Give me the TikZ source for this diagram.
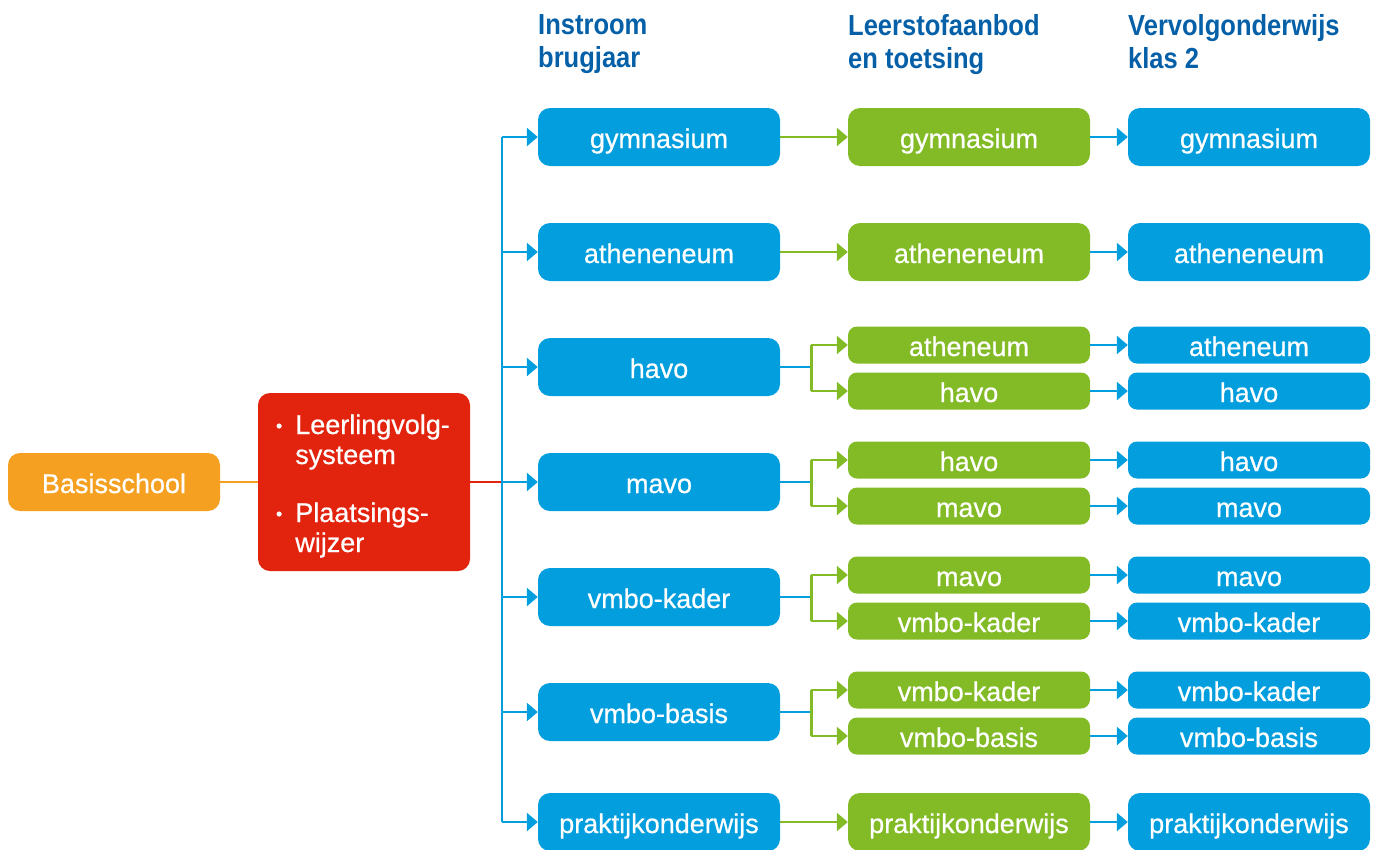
\documentclass[tikz,border=0pt]{standalone}
\usepackage{fontspec}
\setmainfont{Liberation Sans}
\newfontfamily\boxfnt[FakeBold=0.6]{Liberation Sans}
\newfontfamily\headfont[FakeStretch=0.88]{Liberation Sans}
\usetikzlibrary{arrows.meta}
\definecolor{cblue}{HTML}{039EDE}
\definecolor{cgreen}{HTML}{82BB25}
\definecolor{cred}{HTML}{E2230D}
\definecolor{corange}{HTML}{F5A020}
\definecolor{chead}{HTML}{0560A8}
\tikzset{
  boxfont/.style={font=\boxfnt\fontsize{27}{30}\selectfont},
  box/.style={rounded corners=12pt, minimum width=242pt, minimum height=58pt, inner sep=0pt, text height=22pt, text depth=0pt, text=white, boxfont},
  sbox/.style={box, minimum height=37pt, rounded corners=9pt},
  bbox/.style={box, fill=cblue},
  gbox/.style={box, fill=cgreen},
  sbbox/.style={sbox, fill=cblue},
  sgbox/.style={sbox, fill=cgreen},
  tip/.style={-{Triangle[length=11pt,width=18pt]}},
  bline/.style={draw=cblue, line width=2.6pt},
  gline/.style={draw=cgreen, line width=2.6pt},
  barr/.style={bline, tip},
  garr/.style={gline, tip},
  head/.style={anchor=north west, inner sep=0pt, align=left, text=chead, font=\headfont\bfseries\fontsize{29}{33}\selectfont},
}
\begin{document}
\begin{tikzpicture}[x=1pt,y=-1pt]
\useasboundingbox (0,0) rectangle (1381,849);
% headers
\node[head] (h1) at (538,14) {Instroom\\brugjaar};
\node[head] (h2) at (848,14) {Leerstofaanbod\\en toetsing};
\node[head] (h3) at (1128,14) {Vervolgonderwijs\\klas 2};
% left nodes
\node[box, fill=corange, minimum width=212pt] (bs) at (114,482) {Basisschool};
\node[rounded corners=12pt, fill=cred, text=white, minimum width=212pt, minimum height=178pt, text width=176pt, inner xsep=18pt, inner ysep=0pt, align=left, font=\boxfnt\fontsize{27}{30}\selectfont] (red) at (364,482)
 {\begin{tabular}{@{}l@{\hspace{13pt}}l@{}}\rule{0pt}{31pt}\raisebox{2pt}{\fontsize{18}{18}\selectfont•} & Leerlingvolg-\\ & systeem\\[28pt]\raisebox{2pt}{\fontsize{18}{18}\selectfont•} & Plaatsings-\\ & wijzer\end{tabular}};
% column 1
\node[bbox] (c1a) at (659,137) {gymnasium};
\node[bbox] (c1b) at (659,252) {atheneneum};
\node[bbox] (c1c) at (659,367) {havo};
\node[bbox] (c1d) at (659,482) {mavo};
\node[bbox] (c1e) at (659,597) {vmbo-kader};
\node[bbox] (c1f) at (659,712) {vmbo-basis};
\node[bbox] (c1g) at (659,822) {praktijkonderwijs};
% column 2
\node[gbox] (c2a) at (969,137) {gymnasium};
\node[gbox] (c2b) at (969,252) {atheneneum};
\node[sgbox] (c2c1) at (969,345) {atheneum};
\node[sgbox] (c2c2) at (969,391) {havo};
\node[sgbox] (c2d1) at (969,460) {havo};
\node[sgbox] (c2d2) at (969,506) {mavo};
\node[sgbox] (c2e1) at (969,575) {mavo};
\node[sgbox] (c2e2) at (969,621) {vmbo-kader};
\node[sgbox] (c2f1) at (969,690) {vmbo-kader};
\node[sgbox] (c2f2) at (969,736) {vmbo-basis};
\node[gbox] (c2g) at (969,822) {praktijkonderwijs};
% column 3
\node[bbox] (c3a) at (1249,137) {gymnasium};
\node[bbox] (c3b) at (1249,252) {atheneneum};
\node[sbbox] (c3c1) at (1249,345) {atheneum};
\node[sbbox] (c3c2) at (1249,391) {havo};
\node[sbbox] (c3d1) at (1249,460) {havo};
\node[sbbox] (c3d2) at (1249,506) {mavo};
\node[sbbox] (c3e1) at (1249,575) {mavo};
\node[sbbox] (c3e2) at (1249,621) {vmbo-kader};
\node[sbbox] (c3f1) at (1249,690) {vmbo-kader};
\node[sbbox] (c3f2) at (1249,736) {vmbo-basis};
\node[bbox] (c3g) at (1249,822) {praktijkonderwijs};
% connectors left
\draw[draw=corange, line width=2.6pt] (bs.east) -- (red.west);
\coordinate (trunk) at (502,482);
\draw[draw=cred, line width=2.6pt] (red.east) -- (trunk);
\draw[bline] (trunk |- c1a.west) -- (trunk |- c1g.west);
\foreach \n in {c1a,c1b,c1c,c1d,c1e,c1f,c1g}
  \draw[barr] (trunk |- \n.west) -- (\n.west);
% column1 -> column2
\foreach \a/\b in {c1a/c2a,c1b/c2b,c1g/c2g}
  \draw[garr] (\a.east) -- (\b.west);
\foreach \a/\b/\c in {c1c/c2c1/c2c2,c1d/c2d1/c2d2,c1e/c2e1/c2e2,c1f/c2f1/c2f2}{
  \draw[bline] (\a.east) -- ++(31,0) coordinate (s);
  \draw[gline] (s |- \b.west) -- (s |- \c.west);
  \draw[garr] (s |- \b.west) -- (\b.west);
  \draw[garr] (s |- \c.west) -- (\c.west);
}
% column2 -> column3
\foreach \a/\b in {c2a/c3a,c2b/c3b,c2c1/c3c1,c2c2/c3c2,c2d1/c3d1,c2d2/c3d2,c2e1/c3e1,c2e2/c3e2,c2f1/c3f1,c2f2/c3f2,c2g/c3g}
  \draw[barr] (\a.east) -- (\b.west);
\end{tikzpicture}
\end{document}
